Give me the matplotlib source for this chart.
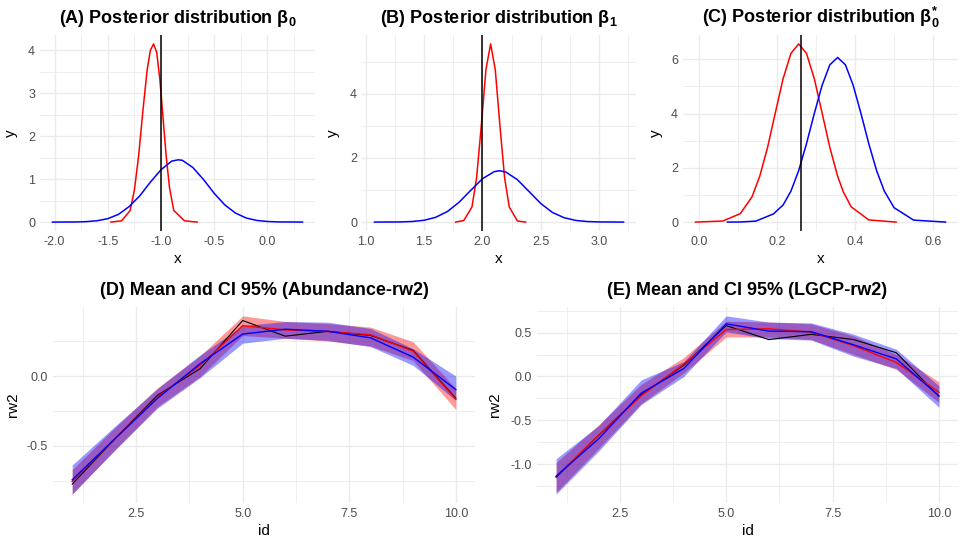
import numpy as np
import matplotlib
matplotlib.use("Agg")
import matplotlib.pyplot as plt

plt.rcParams['font.family'] = ['Liberation Sans', 'DejaVu Sans']
plt.rcParams['mathtext.fontset'] = 'custom'
plt.rcParams['mathtext.rm'] = 'Liberation Sans'
plt.rcParams['mathtext.bf'] = 'Liberation Sans:bold'

# (A) beta0 posterior
a_red_x = [-1.47, -1.37, -1.29, -1.25, -1.21, -1.17, -1.13, -1.10, -1.07, -1.04, -1.01, -0.98, -0.95, -0.92, -0.88, -0.78, -0.66]
a_red_y = [0.0, 0.03, 0.27, 0.75, 1.55, 2.6, 3.55, 4.0, 4.15, 3.95, 3.3, 2.4, 1.5, 0.8, 0.27, 0.03, 0.0]
a_blue_x = [-2.02, -1.8, -1.7, -1.6, -1.5, -1.4, -1.3, -1.2, -1.1, -1.0, -0.9, -0.84, -0.8, -0.7, -0.6, -0.5,
            -0.4, -0.3, -0.2, -0.1, 0.0, 0.1, 0.33]
a_blue_y = [0.0, 0.003, 0.011, 0.032, 0.08, 0.18, 0.36, 0.61, 0.93, 1.22, 1.42, 1.45, 1.44, 1.27, 0.99, 0.67,
            0.40, 0.21, 0.096, 0.039, 0.014, 0.004, 0.0]
a_true = -1.0

# (B) beta1 posterior
b_red_x = [1.77, 1.84, 1.91, 1.95, 1.99, 2.03, 2.07, 2.11, 2.15, 2.19, 2.23, 2.30, 2.37]
b_red_y = [0.0, 0.05, 0.47, 1.38, 3.0, 4.75, 5.55, 4.75, 3.0, 1.38, 0.47, 0.034, 0.0]
b_blue_x = [1.074, 1.3, 1.4, 1.5, 1.6, 1.7, 1.8, 1.9, 2.0, 2.1, 2.145, 2.2, 2.3, 2.4, 2.5, 2.6, 2.7, 2.8,
            2.9, 3.0, 3.21]
b_blue_y = [0.0, 0.005, 0.019, 0.057, 0.15, 0.33, 0.62, 0.99, 1.35, 1.57, 1.6, 1.56, 1.32, 0.95, 0.58, 0.30,
            0.137, 0.052, 0.017, 0.005, 0.0]
b_true = 2.0

# (C) beta0* posterior
c_red_x = [-0.01, 0.06, 0.105, 0.135, 0.155, 0.175, 0.195, 0.215, 0.235, 0.255, 0.275, 0.295, 0.315, 0.335,
           0.355, 0.37, 0.39, 0.435, 0.505]
c_red_y = [0.0, 0.04, 0.31, 0.93, 1.69, 2.75, 4.03, 5.29, 6.22, 6.57, 6.22, 5.29, 4.03, 2.75, 1.69, 1.1,
           0.56, 0.08, 0.0]
c_blue_x = [0.072, 0.105, 0.145, 0.19, 0.215, 0.235, 0.255, 0.275, 0.295, 0.315, 0.335, 0.355, 0.375, 0.395,
            0.415, 0.435, 0.455, 0.475, 0.5, 0.55, 0.632]
c_blue_y = [0.0, 0.004, 0.036, 0.3, 0.63, 1.14, 1.9, 2.89, 4.0, 5.04, 5.8, 6.07, 5.8, 5.04, 4.0, 2.89, 1.9,
            1.14, 0.53, 0.074, 0.0]
c_true = 0.26

# (D) Abundance-rw2
ids = list(range(1, 11))
d_true = [-0.774, -0.45, -0.138, 0.052, 0.397, 0.285, 0.32, 0.29, 0.183, -0.16]
d_red_mean = [-0.755, -0.45, -0.15, 0.076, 0.36, 0.33, 0.318, 0.295, 0.178, -0.166]
d_red_lo = [-0.845, -0.53, -0.22, -0.005, 0.29, 0.27, 0.25, 0.215, 0.11, -0.24]
d_red_hi = [-0.67, -0.37, -0.085, 0.145, 0.43, 0.39, 0.375, 0.35, 0.245, -0.09]
d_blue_mean = [-0.743, -0.45, -0.16, 0.088, 0.30, 0.335, 0.32, 0.273, 0.135, -0.097]
d_blue_lo = [-0.845, -0.53, -0.23, -0.012, 0.235, 0.27, 0.255, 0.21, 0.076, -0.175]
d_blue_hi = [-0.637, -0.36, -0.09, 0.15, 0.36, 0.39, 0.385, 0.34, 0.195, 0.0]

# (E) LGCP-rw2
e_true = [-1.15, -0.67, -0.21, 0.128, 0.58, 0.42, 0.48, 0.42, 0.27, -0.226]
e_red_mean = [-1.14, -0.67, -0.22, 0.14, 0.535, 0.543, 0.505, 0.35, 0.16, -0.18]
e_red_lo = [-1.32, -0.82, -0.31, 0.04, 0.45, 0.45, 0.42, 0.25, 0.08, -0.294]
e_red_hi = [-0.98, -0.55, -0.09, 0.215, 0.63, 0.62, 0.60, 0.46, 0.25, -0.06]
e_blue_mean = [-1.135, -0.71, -0.19, 0.09, 0.60, 0.517, 0.51, 0.36, 0.20, -0.22]
e_blue_lo = [-1.34, -0.85, -0.32, 0.0, 0.51, 0.43, 0.415, 0.23, 0.09, -0.35]
e_blue_hi = [-0.936, -0.56, -0.04, 0.17, 0.69, 0.62, 0.61, 0.48, 0.31, -0.106]

W, H = 966, 550
fig = plt.figure(figsize=(W / 100, H / 100), dpi=100)

GRID = '#EBEBEB'
TICK = '#4D4D4D'


def add_panel(left, right, top, bottom):
    return fig.add_axes([left / W, 1 - bottom / H, (right - left) / W, (bottom - top) / H])


def expand(vals, frac=0.05):
    lo, hi = min(vals), max(vals)
    d = (hi - lo) * frac
    return lo - d, hi + d


def style(ax, xmaj, xmin, ymaj, ymin, xlab, ylab, title, ylab_px):
    for s in ax.spines.values():
        s.set_visible(False)
    ax.set_xticks(xmaj)
    ax.set_xticks(xmin, minor=True)
    ax.set_yticks(ymaj)
    ax.set_yticks(ymin, minor=True)
    ax.grid(True, which='major', color=GRID, lw=1.0)
    ax.grid(True, which='minor', color=GRID, lw=0.55)
    ax.set_axisbelow(True)
    ax.tick_params(which='both', length=0, labelsize=9, labelcolor=TICK, pad=3.5)
    ax.set_xlabel(xlab, fontsize=11, labelpad=3)
    ax.set_ylabel(ylab, fontsize=11)
    bb = ax.get_position()
    # right edge of the rotated label sits at ylab_px
    ax.yaxis.set_label_coords((ylab_px / W - bb.x0) / bb.width, 0.5)
    ax.set_title(title, fontsize=13, fontweight='bold', pad=8.5)


def density_panel(ax, rx, ry, bx, by, true):
    ax.plot(rx, ry, color='red', lw=1.1)
    ax.plot(bx, by, color='blue', lw=1.1)
    ax.axvline(true, color='black', lw=1.1)
    ax.set_xlim(*expand(rx + bx))
    ax.set_ylim(*expand(ry + by))


def band_panel(ax, tr, rm, rlo, rhi, bm, blo, bhi):
    ax.plot(ids, tr, color='black', lw=0.8)
    ax.fill_between(ids, rlo, rhi, color='red', alpha=0.4, lw=0)
    ax.plot(ids, rm, color='red', lw=1.0)
    ax.fill_between(ids, blo, bhi, color='blue', alpha=0.4, lw=0)
    ax.plot(ids, bm, color='blue', lw=1.0)
    ax.set_xlim(*expand(ids))
    ax.set_ylim(*expand(tr + rlo + rhi + blo + bhi))


axA = add_panel(40, 315, 35, 231)
density_panel(axA, a_red_x, a_red_y, a_blue_x, a_blue_y, a_true)
style(axA, np.arange(-2.0, 0.01, 0.5), np.arange(-2.0, 0.5, 0.25), [0, 1, 2, 3, 4],
      np.arange(0.5, 4.5, 1.0), 'x', 'y', r'(A) Posterior distribution β$_\mathbf{0}$', 18)
axA.set_xticklabels(['-2.0', '-1.5', '-1.0', '-0.5', '0.0'])

axB = add_panel(362, 636, 35, 231)
density_panel(axB, b_red_x, b_red_y, b_blue_x, b_blue_y, b_true)
style(axB, [1.0, 1.5, 2.0, 2.5, 3.0], [1.25, 1.75, 2.25, 2.75, 3.25], [0, 2, 4],
      [1, 3, 5], 'x', 'y', r'(B) Posterior distribution β$_\mathbf{1}$', 340)

axC = add_panel(683, 958, 35, 231)
density_panel(axC, c_red_x, c_red_y, c_blue_x, c_blue_y, c_true)
style(axC, [0.0, 0.2, 0.4, 0.6], [0.1, 0.3, 0.5], [0, 2, 4, 6],
      [1, 3, 5], 'x', 'y', r'(C) Posterior distribution β$_\mathbf{0}^\mathbf{*}$', 663)

axD = add_panel(53, 475, 307, 503)
band_panel(axD, d_true, d_red_mean, d_red_lo, d_red_hi, d_blue_mean, d_blue_lo, d_blue_hi)
style(axD, [2.5, 5.0, 7.5, 10.0], [1.25, 3.75, 6.25, 8.75], [-0.5, 0.0],
      [-0.75, -0.25, 0.25], 'id', 'rw2', '(D) Mean and CI 95% (Abundance-rw2)', 20)
axD.set_xticklabels(['2.5', '5.0', '7.5', '10.0'])
axD.set_yticklabels(['-0.5', '0.0'])

axE = add_panel(537, 958, 307, 503)
band_panel(axE, e_true, e_red_mean, e_red_lo, e_red_hi, e_blue_mean, e_blue_lo, e_blue_hi)
style(axE, [2.5, 5.0, 7.5, 10.0], [1.25, 3.75, 6.25, 8.75], [-1.0, -0.5, 0.0, 0.5],
      [-1.25, -0.75, -0.25, 0.25, 0.75], 'id', 'rw2', '(E) Mean and CI 95% (LGCP-rw2)', 502)
axE.set_xticklabels(['2.5', '5.0', '7.5', '10.0'])
axE.set_yticklabels(['-1.0', '-0.5', '0.0', '0.5'])

fig.savefig('out.png', dpi=100, facecolor='white')
